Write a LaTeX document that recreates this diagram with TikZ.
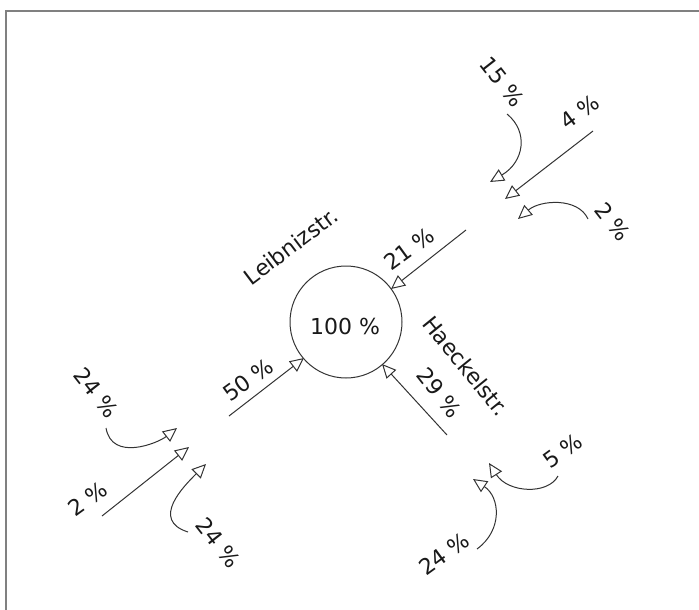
\documentclass[tikz,border=0pt]{standalone}
\usepackage{fontspec}
\setmainfont{DejaVu Sans}
\usetikzlibrary{arrows.meta}
\begin{document}
\begin{tikzpicture}[x=1pt,y=-1pt,
  flow/.style={draw=black!80,line width=1pt,-{Triangle[open,length=14pt,width=13pt,line width=1pt]}},
  lbl/.style={font=\fontsize{22}{24}\selectfont,inner sep=0pt,text=black!90},
  up/.style={lbl,rotate=36},
  down/.style={lbl,rotate=-52}]
\useasboundingbox (0,0) rectangle (699,610);
\draw[gray,line width=1.6pt] (6,612) -- (6,11) -- (701,11);

\node[circle,draw=black!80,line width=1pt,minimum size=112pt,inner sep=0pt] (c) at (346,322) {};
\node[lbl] (t100) at (345,326) {100 \%};
\node[lbl,rotate=37] (leib) at (291,246) {Leibnizstr.};
\node[lbl,rotate=-51] (haeck) at (466,366) {Haeckelstr.};

% main arrows
\coordinate (s21) at (466,230); \coordinate (e21) at (391,289);
\coordinate (s50) at (229,416); \coordinate (e50) at (304,358);
\coordinate (s29) at (447,435); \coordinate (e29) at (382,364);
\draw[flow] (s21) -- (e21);
\draw[flow] (s50) -- (e50);
\draw[flow] (s29) -- (e29);
\node[up] (l21) at (409,249) {21 \%};
\node[up] (l50) at (248,380) {50 \%};
\node[down] (l29) at (439,393) {29 \%};

% top right cluster
\coordinate (s15) at (507,114); \coordinate (e15) at (490,182);
\coordinate (s4) at (593,131); \coordinate (e4) at (505,199);
\coordinate (s2a) at (588,219); \coordinate (e2a) at (518,219);
\draw[flow] (s15) .. controls (529,132) and (524,162) .. (e15);
\draw[flow] (s4) -- (e4);
\draw[flow] (s2a) .. controls (578,197) and (540,200) .. (e2a);
\node[down] (l15) at (502,82) {15 \%};
\node[up] (l4) at (580,112) {4 \%};
\node[down] (l2a) at (613,222) {2 \%};

% bottom left cluster
\coordinate (s24a) at (106,428); \coordinate (e24a) at (177,428);
\coordinate (s2b) at (102,516); \coordinate (e2b) at (189,447);
\coordinate (s24b) at (188,532); \coordinate (e24b) at (206,464);
\draw[flow] (s24a) .. controls (112,462) and (158,443) .. (e24a);
\draw[flow] (s2b) -- (e2b);
\draw[flow] (s24b) .. controls (150,520) and (184,486) .. (e24b);
\node[down] (l24a) at (96,393) {24 \%};
\node[up] (l2b) at (88,499) {2 \%};
\node[down] (l24b) at (218,543) {24 \%};

% bottom right cluster
\coordinate (s5) at (558,476); \coordinate (e5) at (489,463);
\coordinate (s24c) at (477,549); \coordinate (e24c) at (473,479);
\draw[flow] (s5) .. controls (548,495) and (508,493) .. (e5);
\draw[flow] (s24c) .. controls (503,530) and (500,497) .. (e24c);
\node[up] (l5) at (563,451) {5 \%};
\node[up] (l24c) at (444,554) {24 \%};
\end{tikzpicture}
\end{document}
